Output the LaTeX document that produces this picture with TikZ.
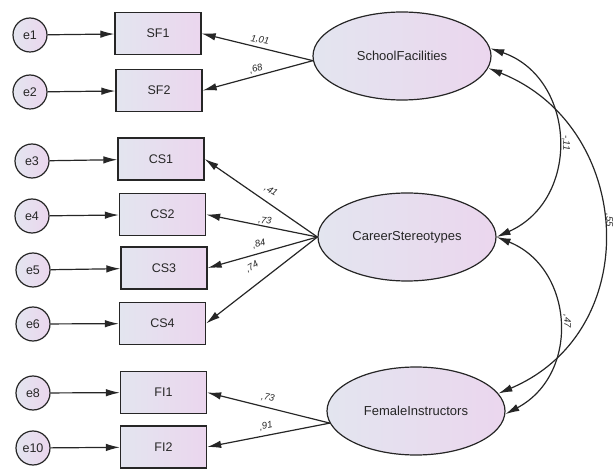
\documentclass[tikz,border=0pt]{standalone}
\usepackage{fontspec}
\setmainfont{Liberation Sans}
\usetikzlibrary{arrows.meta,shapes.geometric}
\definecolor{lc}{HTML}{E3E5EF}
\definecolor{rc}{HTML}{EBD6EE}
\definecolor{bd}{HTML}{262626}
\begin{document}
\begin{tikzpicture}[x=1pt,y=-1pt,
 obs/.style={draw=bd,line width=1.3pt,left color=lc,right color=rc,minimum width=86pt,minimum height=42pt,inner sep=0pt,font=\fontsize{12.5}{14}\selectfont,text=bd},
 lat/.style={ellipse,draw=bd,line width=1.2pt,left color=lc,right color=rc,minimum width=178pt,minimum height=88pt,inner sep=0pt,font=\fontsize{13}{15}\selectfont,text=bd},
 err/.style={circle,draw=bd,line width=1.2pt,left color=lc,right color=rc,minimum size=34pt,inner sep=0pt,font=\fontsize{12.5}{14}\selectfont,text=bd},
 arr/.style={line width=1.2pt,draw=bd,-{Latex[length=14pt,width=7.5pt]}},
 cov/.style={line width=1.2pt,draw=bd,{Latex[length=14pt,width=7.5pt]}-{Latex[length=14pt,width=7.5pt]}},
 coef/.style={font=\itshape\fontsize{9.5}{11}\selectfont,text=bd,inner sep=1pt}]
\useasboundingbox (0,0) rectangle (613,470);
% error terms
\node[err] (e1) at (30,35) {e1};
\node[err] (e2) at (30,92) {e2};
\node[err] (e3) at (32,161) {e3};
\node[err] (e4) at (32,216) {e4};
\node[err] (e5) at (33,270) {e5};
\node[err] (e6) at (33,324) {e6};
\node[err] (e8) at (33,393) {e8};
\node[err] (e10) at (33,448) {e10};
% observed
\node[obs] (SF1) at (158,33.5) {SF1};
\node[obs] (SF2) at (159,90.5) {SF2};
\node[obs] (CS1) at (161,159) {CS1};
\node[obs] (CS2) at (162.5,214.5) {CS2};
\node[obs] (CS3) at (164,268) {CS3};
\node[obs] (CS4) at (162.5,323.5) {CS4};
\node[obs] (FI1) at (163.5,392.5) {FI1};
\node[obs] (FI2) at (163.5,447) {FI2};
% latent
\node[lat] (SF) at (402,56) {SchoolFacilities};
\node[lat] (CS) at (407,237) {CareerStereotypes};
\node[lat] (FI) at (416,411) {FemaleInstructors};
% error arrows
\draw[arr] (e1) -- (SF1);
\draw[arr] (e2) -- (SF2);
\draw[arr] (e3) -- (CS1);
\draw[arr] (e4) -- (CS2);
\draw[arr] (e5) -- (CS3);
\draw[arr] (e6) -- (CS4);
\draw[arr] (e8) -- (FI1);
\draw[arr] (e10) -- (FI2);
% loadings
\draw[arr] (SF.183) -- (SF1.east);
\draw[arr] (SF.183) -- (SF2.east);
\draw[arr] (CS.west) -- (CS1.east);
\draw[arr] (CS.west) -- (CS2.east);
\draw[arr] (CS.west) -- (CS3.east);
\draw[arr] (CS.west) -- (CS4.east);
\draw[arr] (FI.188) -- (FI1.east);
\draw[arr] (FI.188) -- (FI2.east);
\node[coef,rotate=-10] (l1) at (260,40) {1,01};
\node[coef,rotate=17] (l2) at (256,69) {,68};
\node[coef,rotate=-32] (l3) at (271,191) {,41};
\node[coef,rotate=-7] (l4) at (265,221) {,73};
\node[coef,rotate=15] (l5) at (259,244) {,84};
\node[coef,rotate=32] (l6) at (252,267) {,74};
\node[coef,rotate=-12] (l7) at (268,398) {,73};
\node[coef,rotate=12] (l8) at (266,426) {,91};
% covariances
\draw[cov] (SF.5) .. controls (576,78) and (582,199) .. (CS.east);
\draw[cov] (SF.-8) .. controls (634,126) and (646,331) .. (FI.12);
\draw[cov] (CS.east) .. controls (574,268) and (581,374) .. (FI.-2);
\node[coef,rotate=-90] (c1) at (566,143) {-,11};
\node[coef,rotate=-90] (c2) at (609,220) {,55};
\node[coef,rotate=-90] (c3) at (567,321) {,47};
\end{tikzpicture}
\end{document}
